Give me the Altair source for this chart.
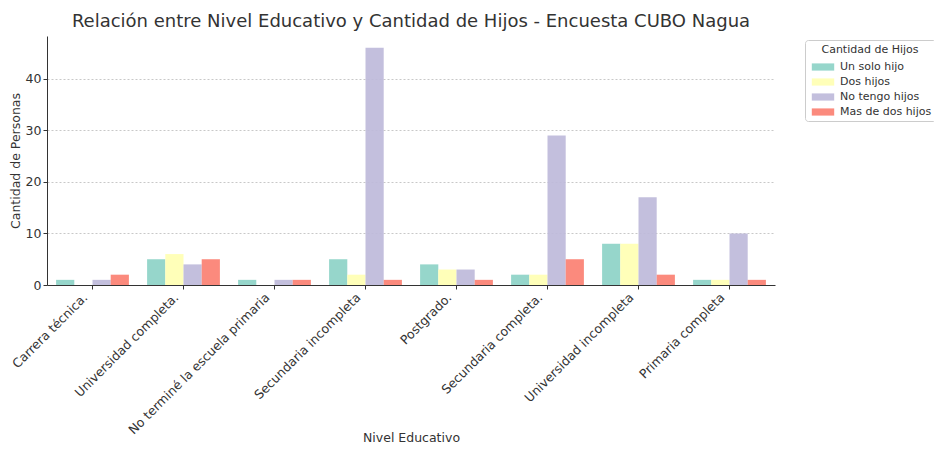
import altair as alt
import pandas as pd

niveles = ["Carrera técnica.", "Universidad completa.", "No terminé la escuela primaria",
           "Secundaria incompleta", "Postgrado.", "Secundaria completa.",
           "Universidad incompleta", "Primaria completa"]
grupos = ["Un solo hijo", "Dos hijos", "No tengo hijos", "Mas de dos hijos"]
un_solo_hijo = [1, 5, 1, 5, 4, 2, 8, 1]
dos_hijos = [0, 6, 0, 2, 3, 2, 8, 1]
no_tengo_hijos = [1, 4, 1, 46, 3, 29, 17, 10]
mas_de_dos = [2, 5, 1, 1, 1, 5, 2, 1]
colores = ["#8dd3c7", "#ffffb3", "#bebada", "#fb8072"]

series = [un_solo_hijo, dos_hijos, no_tengo_hijos, mas_de_dos]
rows = []
for g, vals in zip(grupos, series):
    for n, v in zip(niveles, vals):
        rows.append({"Nivel Educativo": n, "Cantidad de Hijos": g, "Personas": v})
df = pd.DataFrame(rows)

chart = alt.Chart(df).mark_bar(opacity=0.92).encode(
    x=alt.X("Nivel Educativo:N", sort=niveles,
            scale=alt.Scale(paddingInner=0.2, paddingOuter=0.1),
            axis=alt.Axis(title="Nivel Educativo", labelAngle=-45, labelAlign="right",
                          labelBaseline="middle", labelFontSize=12.5, labelColor="#333",
                          labelLimit=400, labelOffset=-7,
                          titleFontSize=12.5, titleFontWeight="normal", titleColor="#333",
                          titleY=146, domainColor="#333", tickColor="#333", tickSize=4,
                          labelPadding=6)),
    xOffset=alt.XOffset("Cantidad de Hijos:N", sort=grupos,
                        scale=alt.Scale(domain=grupos, paddingInner=0, paddingOuter=0)),
    y=alt.Y("Personas:Q", scale=alt.Scale(domain=[0, 48.3], nice=False),
            axis=alt.Axis(title="Cantidad de Personas", values=[0, 10, 20, 30, 40],
                          labelFontSize=12.5, labelColor="#333", titleFontSize=12.5,
                          titleFontWeight="normal", titleColor="#333", domainColor="#333",
                          tickColor="#333", tickSize=4, gridDash=[2, 2], gridColor="#c8c8c8",
                          labelPadding=2, titlePadding=3)),
    color=alt.Color("Cantidad de Hijos:N", sort=grupos,
                    scale=alt.Scale(domain=grupos, range=colores),
                    legend=alt.Legend(title="Cantidad de Hijos", orient="none",
                                      legendX=758, legendY=4, titleFontSize=11,
                                      titleFontWeight="normal", titleColor="#333",
                                      titleAnchor="middle", labelFontSize=11,
                                      labelColor="#333", strokeColor="#ccc",
                                      fillColor="white", cornerRadius=3, padding=4,
                                      symbolOffset=6,
                                      symbolType="M-1.4,-0.45L1.4,-0.45L1.4,0.45L-1.4,0.45Z",
                                      symbolSize=256, symbolStrokeWidth=0,
                                      symbolOpacity=0.92, rowPadding=2, labelOffset=9,
                                      titlePadding=4)),
).properties(
    width=728, height=249,
    title=alt.TitleParams("Relación entre Nivel Educativo y Cantidad de Hijos - Encuesta CUBO Nagua",
                          fontSize=18, fontWeight="normal", color="#333", anchor="middle",
                          offset=5),
    autosize=alt.AutoSizeParams(type="none"),
    padding={"left": 39, "top": 28, "right": 159, "bottom": 160},
).configure(font="DejaVu Sans").configure_view(strokeWidth=0, stroke="transparent")

chart.save("out.html", embed_options={"renderer": "svg", "actions": False})
